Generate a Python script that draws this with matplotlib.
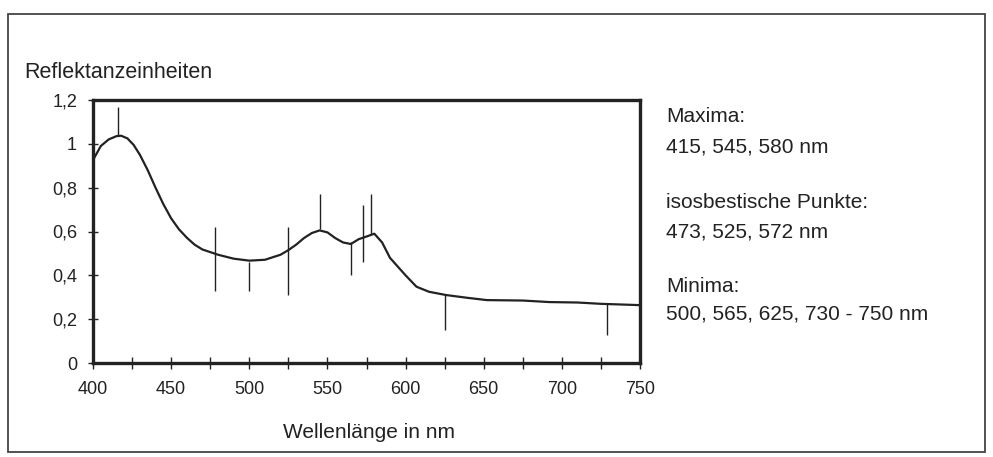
import matplotlib
matplotlib.use("Agg")
import matplotlib.pyplot as plt
from matplotlib.patches import Rectangle
import numpy as np

wavelength = [400, 405, 410, 415, 418, 422, 426, 430, 435, 440, 445, 450, 455, 460, 465, 470, 480, 490,
              500, 510, 520, 525, 530, 535, 540, 545, 550, 555, 560, 565, 570, 575, 580, 585, 590,
              596, 600, 607, 615, 626, 640, 652, 675, 692, 710, 725, 750]
reflectance = [0.926, 0.99, 1.02, 1.035, 1.037, 1.025, 0.995, 0.95, 0.88, 0.80, 0.725, 0.66, 0.61,
               0.572, 0.54, 0.518, 0.494, 0.476, 0.467, 0.471, 0.494, 0.515, 0.54, 0.57, 0.593,
               0.605, 0.596, 0.57, 0.55, 0.543, 0.565, 0.577, 0.59, 0.55, 0.48, 0.432, 0.40,
               0.348, 0.325, 0.31, 0.297, 0.287, 0.285, 0.278, 0.276, 0.27, 0.264]

marker_x = [416, 478, 500, 525, 545, 565, 573, 578, 625, 729]
marker_top = [1.17, 0.62, 0.46, 0.62, 0.77, 0.55, 0.72, 0.77, 0.31, 0.27]
marker_bottom = [1.04, 0.33, 0.33, 0.31, 0.61, 0.40, 0.46, 0.59, 0.15, 0.13]

x_ticks = [400, 450, 500, 550, 600, 650, 700, 750]
y_ticks = [0, 0.2, 0.4, 0.6, 0.8, 1.0, 1.2]
y_tick_labels = ["0", "0,2", "0,4", "0,6", "0,8", "1", "1,2"]

notes = [("Maxima:", 117), ("415, 545, 580 nm", 147),
         ("isosbestische Punkte:", 202), ("473, 525, 572 nm", 232),
         ("Minima:", 286), ("500, 565, 625, 730 - 750 nm", 314)]

fam = ["Liberation Sans", "DejaVu Sans"]
plt.rcParams["font.family"] = fam
ink = "#222222"

fig = plt.figure(figsize=(9.93, 4.57), dpi=100)
fig.patch.set_facecolor("white")
ax = fig.add_axes([93/993, 1-363/457, (640-93)/993, (363-100)/457])

ax.plot(wavelength, reflectance, color=ink, lw=1.6, solid_capstyle="round")
ax.vlines(marker_x, marker_bottom, marker_top, color=ink, lw=1.0)

ax.set_xlim(400, 750)
ax.set_ylim(0, 1.2)
ax.set_xticks(x_ticks)
ax.set_xticks(np.arange(400, 751, 25), minor=True)
ax.set_yticks(y_ticks)
ax.set_yticklabels(y_tick_labels)
for s in ax.spines.values():
    s.set_linewidth(2.4)
    s.set_color(ink)
ax.tick_params(axis="both", which="both", direction="inout", color=ink, width=1.0,
               labelsize=13, labelcolor=ink)
ax.tick_params(axis="x", which="major", length=8, pad=9)
ax.tick_params(axis="x", which="minor", length=8)
ax.tick_params(axis="y", which="major", length=7, pad=8)

fig.text(24/993, 1-72/457, "Reflektanzeinheiten", fontsize=15.5, color=ink,
         ha="left", va="center")
fig.text(369/993, 1-432/457, "Wellenlänge in nm", fontsize=15, color=ink,
         ha="center", va="center")

for txt, yy in notes:
    fig.text(666/993, 1-yy/457, txt, fontsize=15, color=ink, ha="left", va="center")

fig.patches.append(Rectangle((8/993, 1-452/457), (985-8)/993, (452-14)/457,
                             transform=fig.transFigure, fill=False, edgecolor="#444444", lw=1.3))

fig.savefig("out.png", dpi=100, facecolor="white")
